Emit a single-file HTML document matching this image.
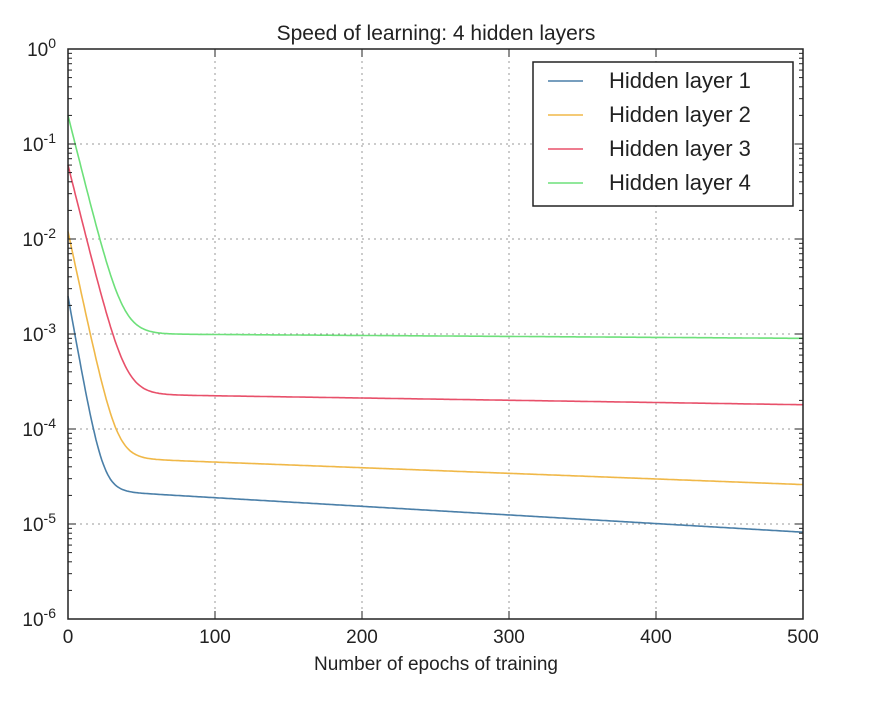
<!DOCTYPE html><html><head><meta charset="utf-8"><style>body{margin:0;background:#fff}svg text{font-family:"Liberation Sans",sans-serif;fill:#222}</style></head><body>
<svg id="s" width="895" height="704" xmlns="http://www.w3.org/2000/svg">
<text x="436" y="40" font-size="21" text-anchor="middle">Speed of learning: 4 hidden layers</text>
<g id="grid" stroke="#999" stroke-dasharray="2,4" stroke-width="1"></g>
<g id="curves" fill="none" stroke-width="1.6"></g>
<rect x="68" y="49" width="735" height="570" fill="none" stroke="#222" stroke-width="1.5"/>
<g id="ticks" stroke="#222" stroke-width="1"></g>
<g id="labels" font-size="19"></g>
<text x="436" y="670" font-size="19" text-anchor="middle">Number of epochs of training</text>
<rect x="533" y="62" width="260" height="144" fill="#fff" stroke="#222" stroke-width="1.5"/>
<g font-size="22">
<line x1="548" y1="81" x2="583" y2="81" stroke="#4a7fa8" stroke-width="1.6"/><text x="609" y="88">Hidden layer 1</text>
<line x1="548" y1="115" x2="583" y2="115" stroke="#f0b848" stroke-width="1.6"/><text x="609" y="122">Hidden layer 2</text>
<line x1="548" y1="149" x2="583" y2="149" stroke="#e8506a" stroke-width="1.6"/><text x="609" y="156">Hidden layer 3</text>
<line x1="548" y1="183" x2="583" y2="183" stroke="#6de07a" stroke-width="1.6"/><text x="609" y="190">Hidden layer 4</text>
</g>
</svg>
<script>
const NS="http://www.w3.org/2000/svg",L=68,R=803,T=49,D=95;
const X=v=>L+v*(R-L)/500,Y=lg=>T-lg*D;
function el(p,t,a,txt){const e=document.createElementNS(NS,t);for(const k in a)e.setAttribute(k,a[k]);if(txt!=null)e.textContent=txt;document.getElementById(p).appendChild(e);return e;}
for(let i=1;i<5;i++)el('grid','line',{x1:X(i*100),x2:X(i*100),y1:T,y2:T+570});
for(let d=1;d<6;d++)el('grid','line',{x1:L,x2:R,y1:Y(-d),y2:Y(-d)});
for(let d=0;d<6;d++)for(let m=1;m<10;m++){const y=Y(-d-1+Math.log10(m));const len=m==1?8:4;if(m==1&&d==5)continue;
el('ticks','line',{x1:L,x2:L+len,y1:y,y2:y});el('ticks','line',{x1:R,x2:R-len,y1:y,y2:y});}
for(let i=0;i<=5;i++){el('ticks','line',{x1:X(i*100),x2:X(i*100),y1:T,y2:T+8});el('ticks','line',{x1:X(i*100),x2:X(i*100),y1:T+570,y2:T+562});
el('labels','text',{x:X(i*100),y:643,'text-anchor':'middle'},String(i*100));}
for(let d=0;d<=6;d++){const t=el('labels','text',{x:56,y:Y(-d)+7,'text-anchor':'end'});t.innerHTML='10<tspan dy="-8" font-size="14">'+(d?'-'+d:'0')+'</tspan>';}
const S=[["#6de07a",0.2,1e-3,9e-4,7],["#e8506a",0.06,2.3e-4,1.8e-4,7],["#f0b848",0.012,4.8e-5,2.6e-5,6],["#4a7fa8",2.5e-3,2.1e-5,8.2e-6,5]];
for(const [c,y0,p50,pe,tau] of S){const a=Math.log10(p50),b=(Math.log10(pe)-a)/450;let d="";
const p=x=>Math.pow(10,a+b*(x-50));
for(let x=0;x<=500;x+=1){const v=p(x)+(y0-p(0))*Math.exp(-x/tau);d+=(x?"L":"M")+X(x).toFixed(1)+","+Y(Math.log10(v)).toFixed(1);}
el('curves','path',{d,stroke:c});}
</script>
</body></html>
